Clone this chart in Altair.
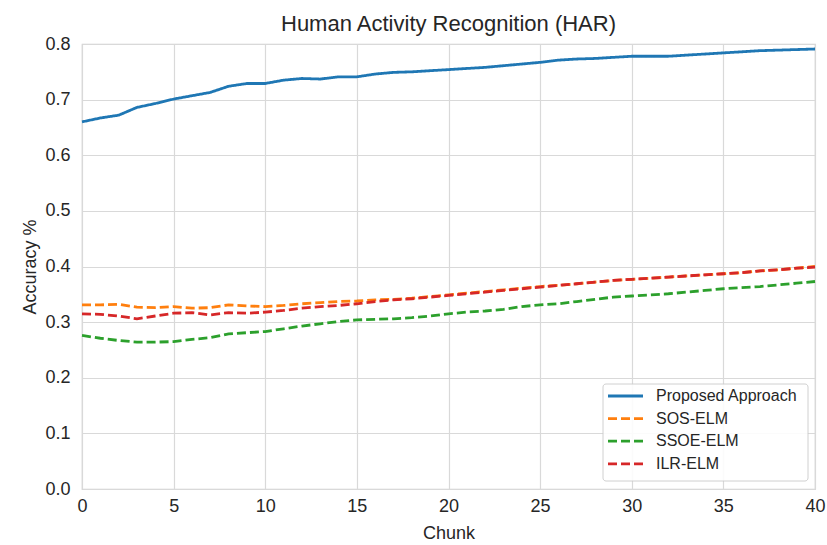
import altair as alt
import pandas as pd

chunks = list(range(41))
series_names = ["Proposed Approach", "SOS-ELM", "SSOE-ELM", "ILR-ELM"]
series_colors = ["#1f77b4", "#ff7f0e", "#2ca02c", "#d62728"]
series_dashes = [[1, 0], [9, 4], [9, 4], [9, 4]]

proposed = [0.660, 0.667, 0.672, 0.686, 0.693, 0.701, 0.707, 0.713, 0.724, 0.729,
            0.729, 0.735, 0.738, 0.737, 0.741, 0.741, 0.746, 0.749, 0.750, 0.752,
            0.754, 0.756, 0.758, 0.761, 0.764, 0.767, 0.771, 0.773, 0.774, 0.776,
            0.778, 0.778, 0.778, 0.780, 0.782, 0.784, 0.786, 0.788, 0.789, 0.790,
            0.791]
sos_elm = [0.331, 0.331, 0.332, 0.327, 0.326, 0.328, 0.325, 0.326, 0.331, 0.329,
           0.328, 0.330, 0.333, 0.335, 0.337, 0.338, 0.340, 0.341, 0.343, 0.346,
           0.349, 0.352, 0.355, 0.358, 0.361, 0.364, 0.366, 0.369, 0.372, 0.375,
           0.377, 0.379, 0.381, 0.383, 0.385, 0.387, 0.389, 0.392, 0.394, 0.397,
           0.400]
ssoe_elm = [0.276, 0.271, 0.267, 0.264, 0.264, 0.265, 0.269, 0.272, 0.279, 0.281,
            0.283, 0.288, 0.293, 0.297, 0.301, 0.304, 0.305, 0.306, 0.308, 0.311,
            0.315, 0.318, 0.320, 0.323, 0.328, 0.331, 0.333, 0.337, 0.341, 0.345,
            0.347, 0.349, 0.351, 0.354, 0.357, 0.360, 0.362, 0.364, 0.367, 0.370,
            0.373]
ilr_elm = [0.315, 0.314, 0.311, 0.306, 0.311, 0.316, 0.317, 0.313, 0.317, 0.316,
           0.318, 0.321, 0.325, 0.328, 0.330, 0.333, 0.337, 0.340, 0.342, 0.345,
           0.348, 0.351, 0.354, 0.357, 0.360, 0.363, 0.366, 0.369, 0.372, 0.375,
           0.377, 0.379, 0.381, 0.383, 0.385, 0.387, 0.389, 0.392, 0.394, 0.397,
           0.399]

rows = []
for name, vals in zip(series_names, [proposed, sos_elm, ssoe_elm, ilr_elm]):
    for i, (c, v) in enumerate(zip(chunks, vals)):
        rows.append({"Chunk": c, "Accuracy": v, "Method": name, "ord": i})
df = pd.DataFrame(rows)

legend_df = pd.DataFrame({"Method": series_names, "row": list(range(len(series_names)))})

FONT = "Liberation Sans"
TXT = "#262626"

color_scale = alt.Scale(domain=series_names, range=series_colors)
dash_scale = alt.Scale(domain=series_names, range=series_dashes)

lines = alt.Chart(df).mark_line(strokeWidth=2.8).encode(
    x=alt.X("Chunk:Q", title="Chunk",
            scale=alt.Scale(domain=[0, 40], nice=False),
            axis=alt.Axis(values=list(range(0, 41, 5)), format="d")),
    y=alt.Y("Accuracy:Q", title="Accuracy %",
            scale=alt.Scale(domain=[0, 0.8], nice=False),
            axis=alt.Axis(values=[i / 10 for i in range(9)], format=".1f")),
    color=alt.Color("Method:N", scale=color_scale, legend=None),
    strokeDash=alt.StrokeDash("Method:N", scale=dash_scale, legend=None),
    order="ord:Q",
)

legend_box = alt.Chart(pd.DataFrame({"k": [0]})).mark_rect(
    fill="white", stroke="#cccccc", strokeWidth=1, cornerRadius=3, opacity=0.9
).encode(
    x=alt.value(521), x2=alt.value(726), y=alt.value(340), y2=alt.value(437)
)

legend_base = alt.Chart(legend_df).transform_calculate(
    ly="352 + datum.row * 22.6"
)

legend_lines = legend_base.mark_rule(strokeWidth=2.8).encode(
    x=alt.value(526), x2=alt.value(561),
    y=alt.Y("ly:Q", scale=None, axis=None),
    color=alt.Color("Method:N", scale=color_scale, legend=None),
    strokeDash=alt.StrokeDash("Method:N", scale=dash_scale, legend=None),
)

legend_text = legend_base.mark_text(
    align="left", baseline="middle", fontSize=16, font=FONT, color=TXT
).encode(
    x=alt.value(574),
    y=alt.Y("ly:Q", scale=None, axis=None),
    text="Method:N",
)

chart = alt.layer(lines, legend_box, legend_lines, legend_text).properties(
    width=733, height=445,
    title=alt.Title("Human Activity Recognition (HAR)", fontSize=22, font=FONT,
                    fontWeight="normal", color=TXT, offset=-1, frame="group"),
    autosize="none",
    padding={"left": 82, "top": 44, "right": 12, "bottom": 56},
).configure_axis(
    grid=True, gridColor="#d9d9d9", gridWidth=1.2,
    domain=False, ticks=False, labelFlush=False,
    labelFont=FONT, labelFontSize=18, labelColor=TXT,
    titleFont=FONT, titleFontSize=18, titleColor=TXT, titleFontWeight="normal",
).configure_axisX(labelPadding=8, titlePadding=9).configure_axisY(
    labelPadding=12, titlePadding=5
).configure_view(
    stroke="#d0d0d0", strokeWidth=1.2
)

chart.save("out.html", embed_options={"renderer": "svg", "actions": False})
